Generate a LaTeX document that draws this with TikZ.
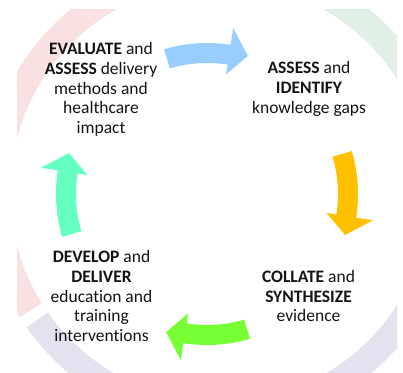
\documentclass[tikz,border=0pt]{standalone}
\usepackage{fontspec}
\setmainfont{Carlito}[Ligatures=NoCommon]
\definecolor{ringpink}{HTML}{FAE1E1}
\definecolor{ringgreen}{HTML}{E1F0E6}
\definecolor{ringgrey}{HTML}{E2E3EE}
\definecolor{arrblue}{HTML}{99CCFF}
\definecolor{arrorange}{HTML}{FFC000}
\definecolor{arrgreen}{HTML}{77FF33}
\definecolor{arrteal}{HTML}{66FFC2}
\newcommand\cyclearrow[2]{%
  \pgfmathsetmacro\ta{#1+16.5}%
  \pgfmathsetmacro\tb{#1-9}%
  \pgfmathsetmacro\tp{#1-16.5}%
  \fill[#2] (\ta:151) arc[start angle=\ta, end angle=\tb, radius=151]
    -- (\tb:168) -- (\tp:144) -- (\tb:121) -- (\tb:131)
    arc[start angle=\tb, end angle=\ta, radius=131] -- cycle;}
\newcommand\ringseg[3]{%
  \fill[#3] (#1:236) arc[start angle=#1, end angle=#2, radius=236]
    -- (#2:210) arc[start angle=#2, end angle=#1, radius=210] -- cycle;}
\begin{document}
\begin{tikzpicture}[x=1pt,y=1pt,
  lbl/.style={align=center, inner sep=0pt, text=black!92,
    font=\fontsize{17.5}{19.7}\selectfont}]
\useasboundingbox (0,0) rectangle (403,372);
\fill[white] (0,0) rectangle (403,372);
\begin{scope}
  \clip (17,0) rectangle (397,362);
  \begin{scope}[shift={(220,180)}]
    \ringseg{92}{212}{ringpink}
    \ringseg{215}{345}{ringgrey}
    \ringseg{-12}{88}{ringgreen}
  \end{scope}
\end{scope}
\begin{scope}[shift={(207,178)}]
  \cyclearrow{90}{arrblue}
  \cyclearrow{0}{arrorange}
  \cyclearrow{-90}{arrgreen}
  \cyclearrow{180}{arrteal}
\end{scope}
\node[lbl] (evaluate) at (101,282.5) {\textbf{EVALUATE} and\\\textbf{ASSESS} delivery\\methods and\\healthcare\\impact};
\node[lbl] (assess) at (309,283) {\textbf{ASSESS} and\\\textbf{IDENTIFY}\\knowledge gaps};
\node[lbl] (collate) at (308.5,76) {\textbf{COLLATE} and\\\textbf{SYNTHESIZE}\\evidence};
\node[lbl] (develop) at (101.5,76) {\textbf{DEVELOP} and\\\textbf{DELIVER}\\education and\\training\\interventions};
\end{tikzpicture}
\end{document}
